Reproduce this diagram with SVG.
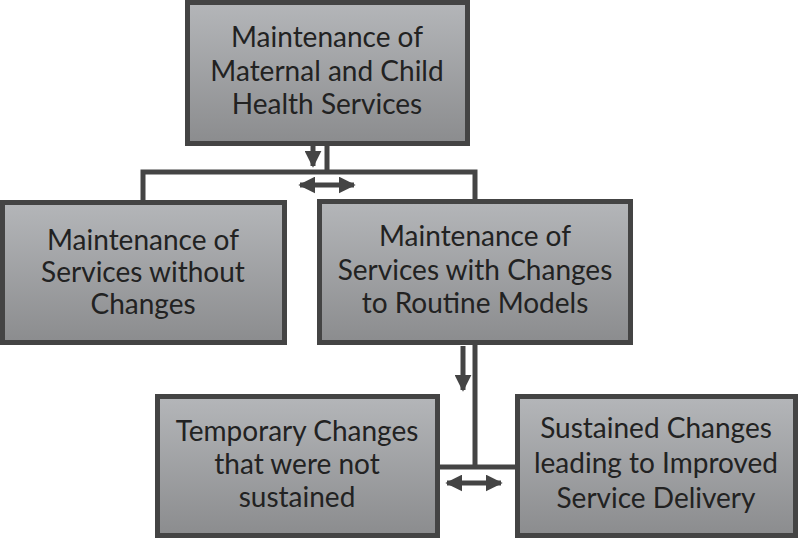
<svg xmlns="http://www.w3.org/2000/svg" width="800" height="539" viewBox="0 0 800 539">
<defs>
<linearGradient id="g" x1="0" y1="0" x2="0" y2="1">
<stop offset="0" stop-color="#b4b6b9"/>
<stop offset="1" stop-color="#8b8c8e"/>
</linearGradient>
<marker id="ah" viewBox="0 0 10 10" refX="9" refY="5" markerWidth="3.4" markerHeight="3.4" markerUnits="strokeWidth" orient="auto-start-reverse">
<path d="M0,0 L10,5 L0,10 Z" fill="#444"/>
</marker>
</defs>
<style>
.box{fill:url(#g);stroke:#444;stroke-width:5}
.t{font-family:Lato,"Open Sans",sans-serif;font-size:28px;fill:#222;text-anchor:middle}
.c{fill:none;stroke:#444;stroke-width:5}
.a{fill:none;stroke:#444;stroke-width:5;marker-end:url(#ah)}
.d{fill:none;stroke:#444;stroke-width:5;marker-start:url(#ah);marker-end:url(#ah)}
</style>
<g id="connectors">
<path class="c" d="M327,145 V172 M143,200 V172 H475 V200"/>
<path class="a" d="M313,146 V166"/>
<path class="d" d="M300,185 H354"/>
<path class="c" d="M475,345 V467 M438,467 H516"/>
<path class="a" d="M463,346 V390"/>
<path class="d" d="M447,483 H501"/>
</g>
<g id="n1">
<rect class="box" x="187.500" y="2.500" width="280" height="141"/>
<text class="t" x="327" y="47">Maintenance of</text>
<text class="t" x="327" y="81">Maternal and Child</text>
<text class="t" x="327" y="114">Health Services</text>
</g>
<g id="n2">
<rect class="box" x="2.500" y="202.500" width="282" height="140"/>
<text class="t" x="143" y="250">Maintenance of</text>
<text class="t" x="143" y="282">Services without</text>
<text class="t" x="143" y="314">Changes</text>
</g>
<g id="n3">
<rect class="box" x="319.500" y="201.500" width="311" height="141"/>
<text class="t" x="475" y="246">Maintenance of</text>
<text class="t" x="475" y="280">Services with Changes</text>
<text class="t" x="475" y="313">to Routine Models</text>
</g>
<g id="n4">
<rect class="box" x="157.500" y="396.500" width="280" height="139"/>
<text class="t" x="297" y="441">Temporary Changes</text>
<text class="t" x="297" y="474">that were not</text>
<text class="t" x="297" y="507">sustained</text>
</g>
<g id="n5">
<rect class="box" x="517.500" y="396.500" width="278" height="139"/>
<text class="t" x="656" y="438">Sustained Changes</text>
<text class="t" x="656" y="473">leading to Improved</text>
<text class="t" x="656" y="508">Service Delivery</text>
</g>
</svg>
